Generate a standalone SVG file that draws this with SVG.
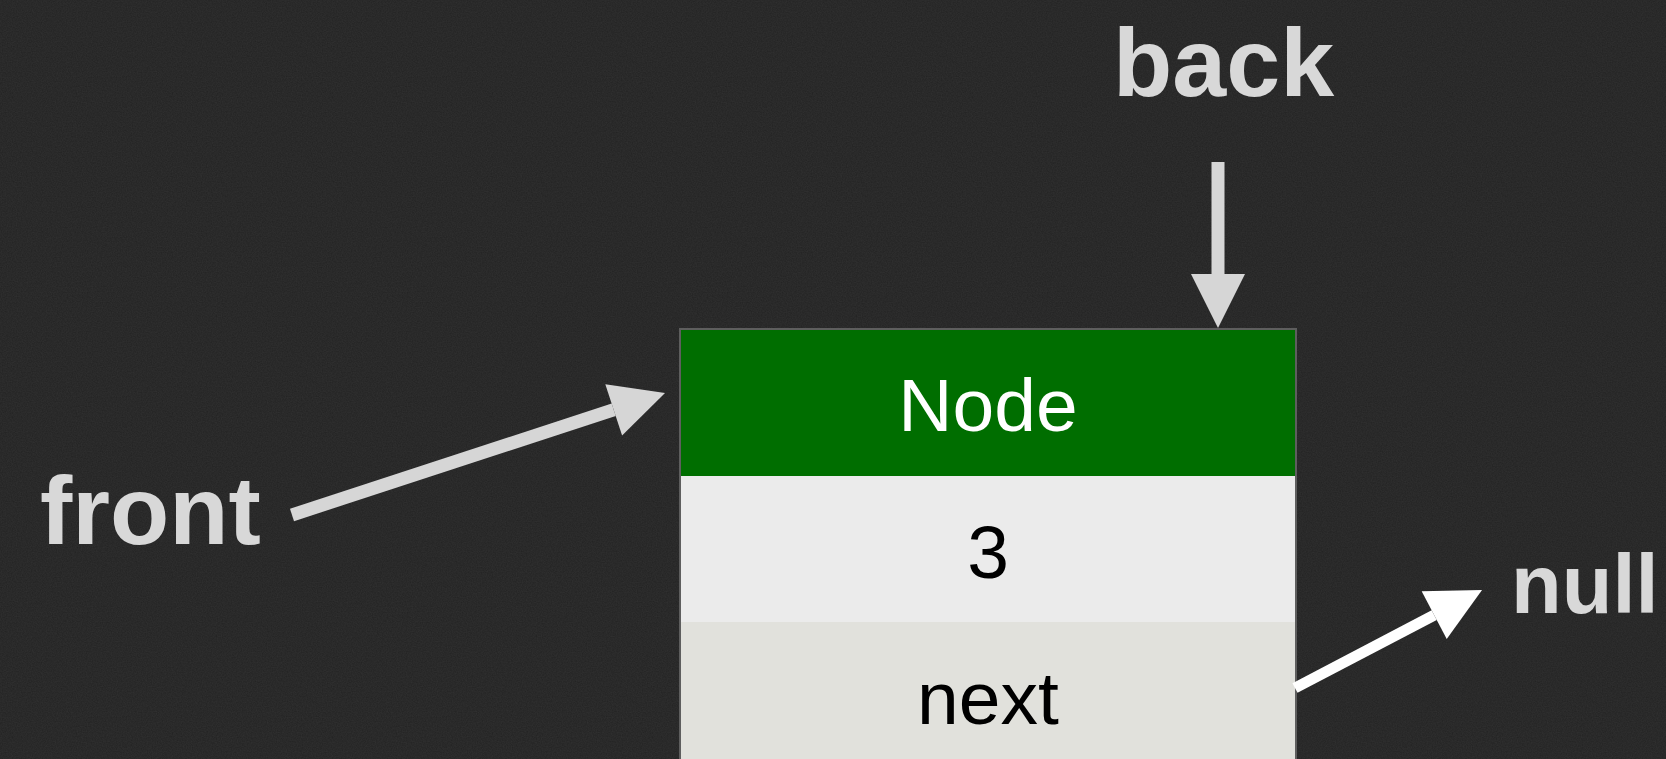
<svg xmlns="http://www.w3.org/2000/svg" width="1666" height="759" viewBox="0 0 1666 759">
  <defs>
    <filter id="grain" x="0" y="0" width="100%" height="100%">
      <feTurbulence type="fractalNoise" baseFrequency="0.8" numOctaves="2" seed="3" result="n"/>
      <feColorMatrix type="matrix" values="0 0 0 0 0.5  0 0 0 0 0.5  0 0 0 0 0.5  0 0 0 0.10 0" />
    </filter>
    <marker id="headGray" markerUnits="userSpaceOnUse" markerWidth="60" markerHeight="60" refX="0" refY="0" orient="auto" overflow="visible">
      <path d="M0,-27 L54,0 L0,27 z" fill="#d6d6d6"/>
    </marker>
    <marker id="headWhite" markerUnits="userSpaceOnUse" markerWidth="60" markerHeight="60" refX="0" refY="0" orient="auto" overflow="visible">
      <path d="M0,-27 L54,0 L0,27 z" fill="#ffffff"/>
    </marker>
  </defs>
  <style>
    .label { font-family: "Liberation Sans", Arial, sans-serif; font-weight: bold; fill: #d8d8d8; }
    .cell { font-family: "Liberation Sans", Arial, sans-serif; font-size: 75px; text-anchor: middle; }
    .conn { fill: none; stroke-linecap: butt; }
  </style>

  <rect x="0" y="0" width="1666" height="759" fill="#222222"/>
  <rect x="0" y="0" width="1666" height="759" filter="url(#grain)"/>

  <g id="node">
    <rect x="680" y="329" width="616" height="147" fill="#006e00"/>
    <rect x="680" y="476" width="616" height="146" fill="#ebebeb"/>
    <rect x="680" y="622" width="616" height="140" fill="#e1e1dc"/>
    <rect x="680" y="329" width="616" height="440" fill="none" stroke="#5e5e5e" stroke-width="2"/>
    <text class="cell" x="988" y="431" fill="#ffffff">Node</text>
    <text class="cell" x="988" y="578" fill="#000000">3</text>
    <text class="cell" x="988" y="724" fill="#000000">next</text>
  </g>

  <g id="label-front">
    <text class="label" x="40" y="544" font-size="97">front</text>
  </g>
  <g id="label-back">
    <text class="label" x="1113" y="96" font-size="97">back</text>
  </g>
  <g id="label-null">
    <text class="label" x="1511" y="613" font-size="83">null</text>
  </g>

  <g id="connectors">
    <line class="conn" x1="1218" y1="162" x2="1218" y2="274" stroke="#d6d6d6" stroke-width="13" marker-end="url(#headGray)"/>
    <line class="conn" x1="292" y1="515" x2="613.7" y2="409.8" stroke="#d6d6d6" stroke-width="13" marker-end="url(#headGray)"/>
    <line class="conn" x1="1295" y1="688" x2="1434.2" y2="615.1" stroke="#ffffff" stroke-width="11" marker-end="url(#headWhite)"/>
  </g>
</svg>
